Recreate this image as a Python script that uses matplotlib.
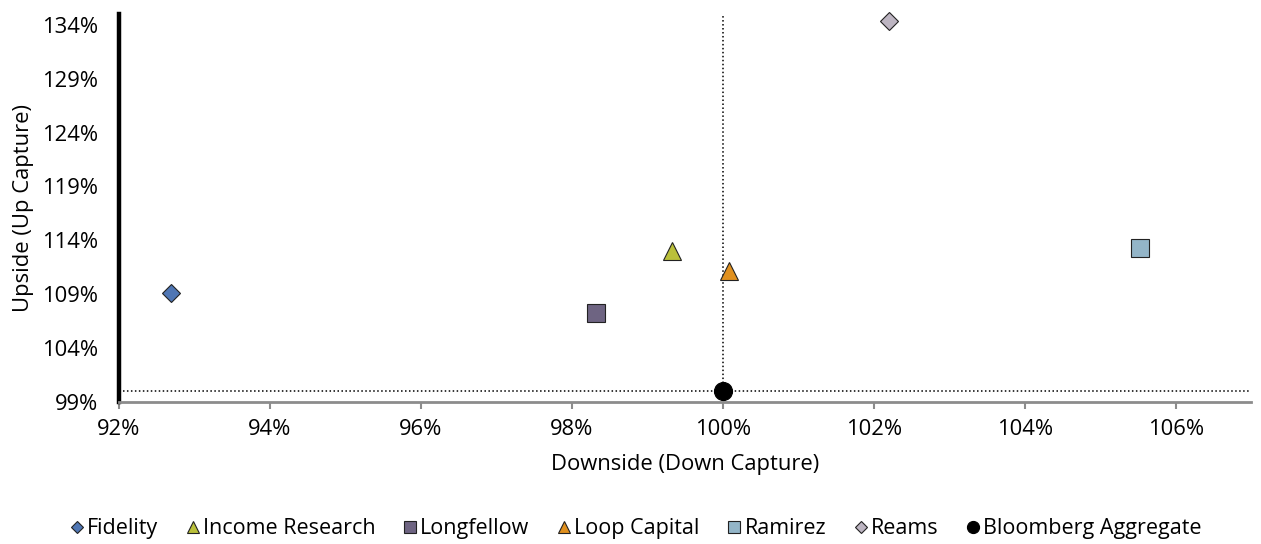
import matplotlib.pyplot as plt
from matplotlib.ticker import FuncFormatter

plt.rcParams['font.family'] = ['Open Sans', 'DejaVu Sans']

# managers: downside capture (x) and upside capture (y), in %
names = ["Fidelity", "Income Research", "Longfellow", "Loop Capital",
         "Ramirez", "Reams", "Bloomberg Aggregate"]
down_capture = [92.69, 99.32, 98.32, 100.08, 105.52, 102.2, 100.0]
up_capture = [109.14, 113.0, 107.23, 111.15, 113.26, 134.34, 100.0]
markers = ["D", "^", "s", "^", "s", "D", "o"]
colors = ["#4f76b4", "#bac03a", "#6e6482", "#e0901e", "#93b5c8", "#bdb5c2", "#000000"]
sizes = [9, 13, 13, 13, 13, 9, 13]

x_ticks = [92, 94, 96, 98, 100, 102, 104, 106]
y_ticks = [99, 104, 109, 114, 119, 124, 129, 134]

fig = plt.figure(figsize=(12.61, 5.44), dpi=100)
ax = fig.add_axes([0.0944, 0.261, 0.898, 0.7132])

bench_x = down_capture[-1]
bench_y = up_capture[-1]

# benchmark cross lines
ax.plot([92, 107], [bench_y, bench_y], color="black", lw=1.1, ls=(0, (1, 1.6)), zorder=1)
ax.plot([bench_x, bench_x], [bench_y, 135], color="black", lw=1.1, ls=(0, (1, 1.6)), zorder=1)

for i in range(len(names)):
    edge = "#000000" if names[i] == "Bloomberg Aggregate" else "#222222"
    ax.plot(down_capture[i], up_capture[i], marker=markers[i], ms=sizes[i],
            color=colors[i], mec=edge, mew=0.8, ls="none", label=names[i],
            zorder=3, clip_on=False)

ax.set_xlim(92, 107)
ax.set_ylim(99, 135)
ax.set_xticks(x_ticks)
ax.set_yticks(y_ticks)
ax.xaxis.set_major_formatter(FuncFormatter(lambda v, p: f"{v:.0f}%"))
ax.yaxis.set_major_formatter(FuncFormatter(lambda v, p: f"{v:.0f}%"))

for s in ["top", "right"]:
    ax.spines[s].set_visible(False)
ax.spines["left"].set_linewidth(3.2)
ax.spines["left"].set_color("black")
ax.spines["bottom"].set_linewidth(2)
ax.spines["bottom"].set_color("#8c8c8c")

ax.tick_params(axis="x", colors="#8c8c8c", length=5, width=1.5, labelcolor="black",
               labelsize=15.8, pad=7)
ax.tick_params(axis="y", length=0, labelsize=15.8, pad=15)

ax.set_xlabel("Downside (Down Capture)", fontsize=15.8, labelpad=10)
ax.set_ylabel("Upside (Up Capture)", fontsize=15.8, labelpad=6)

leg = ax.legend(loc="center", bbox_to_anchor=(0.4565, -0.327), ncol=7, frameon=False,
                fontsize=15.5, markerscale=0.67, handlelength=0.6, handletextpad=0.18,
                columnspacing=1.3, borderpad=0)

fig.savefig("out.png", dpi=100)
